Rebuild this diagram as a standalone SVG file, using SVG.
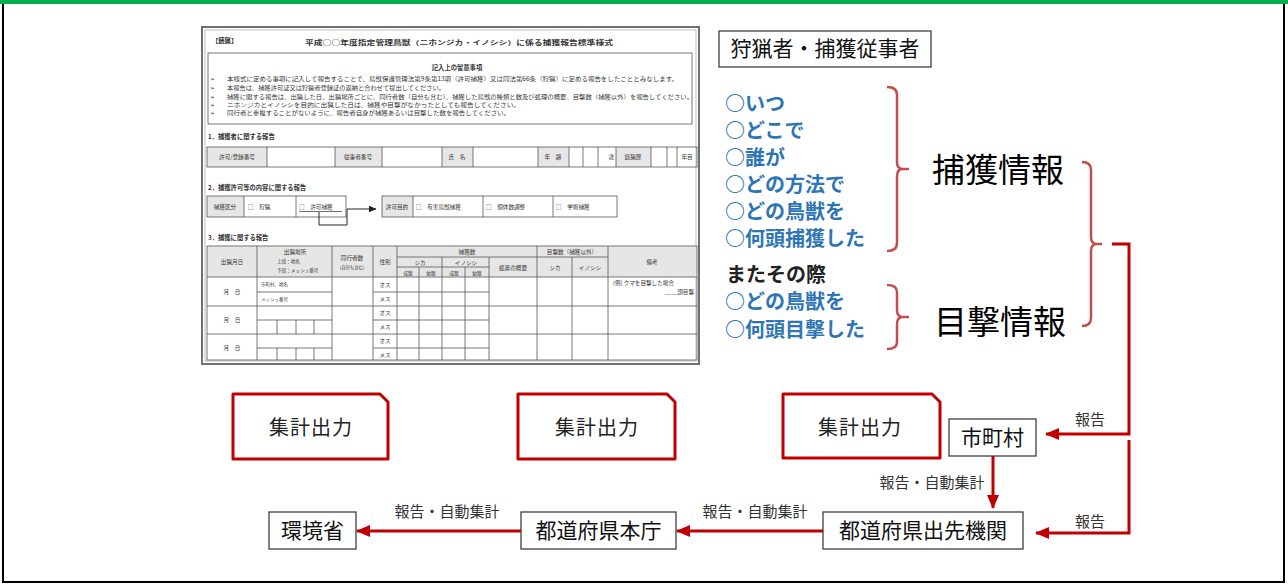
<svg xmlns="http://www.w3.org/2000/svg" width="1288" height="585" viewBox="0 0 1288 585">
<style>
text{font-family:'Noto Sans CJK JP',sans-serif;}
.f{fill:#333;font-size:5.6px;}
.fb{fill:#333;font-size:6.3px;font-weight:bold;}
.c{text-anchor:middle;}
.grid{fill:none;stroke:#555;stroke-width:0.8;}
.hd{fill:#e6e6e6;}
.node{fill:#fff;stroke:#404040;stroke-width:1.3;}
.nt{font-size:21px;fill:#111;text-anchor:middle;}
.out{fill:#fff;stroke:#C00000;stroke-width:3;stroke-linejoin:round;}
.ot{font-size:20px;fill:#222;text-anchor:middle;letter-spacing:1px;}
.blue{font-size:20px;fill:#2E75B6;font-weight:bold;}
.big{font-size:33px;fill:#000;}
.br{fill:none;stroke:#C0504D;stroke-width:2.5;}
.ar{fill:none;stroke:#C00000;stroke-width:3;}
.lb{font-size:15px;fill:#333;text-anchor:middle;}
</style>
<defs>
<marker id="ah" markerUnits="userSpaceOnUse" markerWidth="14" markerHeight="12" viewBox="0 0 14 12" refX="13" refY="6" orient="auto">
<path d="M0,0 L14,6 L0,12 Z" fill="#C00000"/>
</marker>
<marker id="sah" markerUnits="userSpaceOnUse" markerWidth="8" markerHeight="7" viewBox="0 0 8 7" refX="7.5" refY="3.5" orient="auto">
<path d="M0,0 L8,3.5 L0,7 Z" fill="#222"/>
</marker>
</defs>

<g id="frame">
<rect x="0" y="0" width="1288" height="4" fill="#00B050"/>
<path d="M3,4 V582 H1284 V4" fill="none" stroke="#000" stroke-width="2"/>
</g>

<g id="form">
<rect x="202" y="27" width="497" height="337" fill="#fff" stroke="#707070" stroke-width="2"/>
<rect x="205" y="30" width="491" height="331" fill="none" stroke="#b0b0b0" stroke-width="0.8"/>
<text x="212" y="43" class="fb">【銃猟】</text>
<text x="459" y="45" class="fb c" font-size="7.6" textLength="308" lengthAdjust="spacingAndGlyphs">平成○○年度指定管理鳥獣（ニホンジカ・イノシシ）に係る捕獲報告標準様式</text>
<rect x="208" y="53" width="484" height="71" class="grid"/>
<text x="457" y="70" class="fb c">記入上の留意事項</text>
<g class="f">
<text x="210" y="81" font-family="DejaVu Sans">➢</text>
<text x="210" y="90" font-family="DejaVu Sans">➢</text>
<text x="210" y="99" font-family="DejaVu Sans">➢</text>
<text x="210" y="107" font-family="DejaVu Sans">➢</text>
<text x="210" y="115" font-family="DejaVu Sans">➢</text>
<text x="227" y="81" textLength="451" lengthAdjust="spacingAndGlyphs">本様式に定める事項に記入して報告することで、鳥獣保護管理法第9条第13項（許可捕獲）又は同法第66条（狩猟）に定める報告をしたこととみなします。</text>
<text x="227" y="90" textLength="218" lengthAdjust="spacingAndGlyphs">本報告は、捕獲許可証又は狩猟者登録証の返納と合わせて提出してください。</text>
<text x="227" y="99" textLength="466" lengthAdjust="spacingAndGlyphs">捕獲に関する報告は、出猟した日、出猟場所ごとに、同行者数（自分も含む）、捕獲した鳥獣の種類と数及び処理の概要、目撃数（捕獲以外）を報告してください。</text>
<text x="227" y="107" textLength="293" lengthAdjust="spacingAndGlyphs">ニホンジカとイノシシを目的に出猟した日は、捕獲や目撃がなかったとしても報告してください。</text>
<text x="227" y="115" textLength="283" lengthAdjust="spacingAndGlyphs">同行者と重複することがないように、報告者自身が捕獲あるいは目撃した数を報告してください。</text>
</g>

<text x="208" y="139" class="fb">1．捕獲者に関する報告</text>
<rect x="207" y="147" width="60" height="20" class="hd"/>
<rect x="335" y="147" width="47" height="20" class="hd"/>
<rect x="442" y="147" width="31" height="20" class="hd"/>
<rect x="538" y="147" width="31" height="20" class="hd"/>
<rect x="616" y="147" width="35" height="20" class="hd"/>
<rect x="207" y="147" width="490" height="20" class="grid"/>
<path class="grid" d="M267,147V167M335,147V167M382,147V167M442,147V167M473,147V167M538,147V167M569,147V167M583,147V167M598,147V167M616,147V167M651,147V167M667,147V167M677,147V167"/>
<g class="f">
<text x="237" y="159" class="c">許可/登録番号</text>
<text x="358" y="159" class="c">従事者番号</text>
<text x="457" y="159" class="c">氏　名</text>
<text x="553" y="159" class="c">年　齢</text>
<text x="614" y="159" text-anchor="end">歳</text>
<text x="633" y="159" class="c">銃猟歴</text>
<text x="687" y="159" class="c">年目</text>
</g>

<text x="208" y="190" class="fb">2．捕獲許可等の内容に関する報告</text>
<rect x="207" y="196" width="37" height="21" class="hd"/>
<rect x="382" y="196" width="31" height="21" class="hd"/>
<rect x="207" y="196" width="139" height="21" class="grid"/>
<path class="grid" d="M244,196V217M296,196V217"/>
<rect x="382" y="196" width="235" height="21" class="grid"/>
<path class="grid" d="M413,196V217M483,196V217M553,196V217"/>
<g class="f">
<text x="225" y="209" class="c">捕獲区分</text>
<text x="248" y="209">□　狩猟</text>
<text x="299" y="209">□　許可捕獲</text>
<text x="397" y="209" class="c">許可目的</text>
<text x="416" y="209">□　有害鳥獣捕獲</text>
<text x="486" y="209">□　個体数調整</text>
<text x="556" y="209">□　学術捕獲</text>
</g>
<path d="M299,211.5H342" stroke="#333" stroke-width="0.7"/>
<path d="M319,212V225H347V209H376" fill="none" stroke="#222" stroke-width="1" marker-end="url(#sah)"/>

<text x="208" y="240" class="fb">3．捕獲に関する報告</text>
<rect x="207" y="246" width="490" height="31" class="hd"/>
<rect x="207" y="246" width="490" height="114" class="grid" stroke-width="1"/>
<path class="grid" d="M257,246V360M332,246V360M373,246V360M397,246V360M442,257V360M419,267V360M465,267V360M489,257V360M537,246V360M572,257V360M608,246V360
M397,257H608M397,267H489M207,277H697M207,306H697M207,334H697
M257,292H332M373,292H489M257,320H332M373,320H489M257,348H332M373,348H489
M277,320V334M296,320V334M314,320V334M277,348V360M296,348V360M314,348V360"/>
<g class="f">
<text x="232" y="264" class="c">出猟月日</text>
<text x="295" y="254" class="c">出猟場所</text>
<text x="277" y="263" font-size="4.6">上段：地名</text>
<text x="277" y="272" font-size="4.6">下段：メッシュ番号</text>
<text x="352" y="260" class="c">同行者数</text>
<text x="352" y="269" class="c" font-size="4.3">(自分も含む)</text>
<text x="385" y="264" class="c">性別</text>
<text x="467" y="254" class="c">捕獲数</text>
<text x="420" y="265" class="c">シカ</text>
<text x="466" y="265" class="c">イノシシ</text>
<text x="408" y="275" class="c" font-size="4.8">成獣</text>
<text x="431" y="275" class="c" font-size="4.8">幼獣</text>
<text x="454" y="275" class="c" font-size="4.8">成獣</text>
<text x="477" y="275" class="c" font-size="4.8">幼獣</text>
<text x="513" y="270" class="c">処置の概要</text>
<text x="572" y="254" class="c">目撃数（捕獲以外）</text>
<text x="555" y="270" class="c">シカ</text>
<text x="590" y="270" class="c">イノシシ</text>
<text x="652" y="264" class="c">備考</text>
<text x="232" y="294" class="c">月　日</text>
<text x="232" y="322" class="c">月　日</text>
<text x="232" y="350" class="c">月　日</text>
<text x="261" y="286" font-size="4.5">市町村、地名</text>
<text x="261" y="301" font-size="4.5">メッシュ番号</text>
<text x="385" y="287" class="c">オス</text>
<text x="385" y="301" class="c">メス</text>
<text x="385" y="315" class="c">オス</text>
<text x="385" y="329" class="c">メス</text>
<text x="385" y="343" class="c">オス</text>
<text x="385" y="357" class="c">メス</text>
<text x="613" y="285">(例) クマを目撃した場合</text>
<text x="694" y="294" text-anchor="end">____頭目撃</text>
</g>
</g>

<g id="hunter">
<rect x="719" y="31" width="212" height="36" class="node"/>
<text x="825" y="56" class="nt">狩猟者・捕獲従事者</text>
</g>

<g id="capture-list">
<text x="725" y="111" class="blue">○いつ</text>
<text x="725" y="138" class="blue">○どこで</text>
<text x="725" y="165" class="blue">○誰が</text>
<text x="725" y="192" class="blue">○どの方法で</text>
<text x="725" y="219" class="blue">○どの鳥獣を</text>
<text x="725" y="246" class="blue">○何頭捕獲した</text>
</g>
<g id="sighting-list">
<text x="726" y="282" font-size="20" font-weight="bold" fill="#222">またその際</text>
<text x="725" y="309" class="blue">○どの鳥獣を</text>
<text x="725" y="337" class="blue">○何頭目撃した</text>
</g>

<g id="brackets">
<path class="br" d="M887,87 Q897,87 897,95 V162 Q897,169 903,169 H909 M903,169 Q897,169 897,176 V243 Q897,251 887,251"/>
<path class="br" d="M887,285 Q897,285 897,292 V310 Q897,317 903,317 H909 M903,317 Q897,317 897,324 V342 Q897,349 887,349"/>
<path class="br" d="M1082,162 Q1091,162 1091,170 V237 Q1091,244 1097,244 H1102 M1097,244 Q1091,244 1091,251 V318 Q1091,326 1082,326"/>
</g>

<g id="capture-info"><text x="998" y="182" class="big" text-anchor="middle">捕獲情報</text></g>
<g id="sighting-info"><text x="1000" y="334" class="big" text-anchor="middle">目撃情報</text></g>

<g id="output1">
<path class="out" d="M233,394 H380 L388,402 V459 H233 Z"/>
<text x="311" y="435" class="ot">集計出力</text>
</g>
<g id="output2">
<path class="out" d="M518,394 H667 L675,402 V459 H518 Z"/>
<text x="597" y="435" class="ot">集計出力</text>
</g>
<g id="output3">
<path class="out" d="M783,394 H932 L940,402 V458 H783 Z"/>
<text x="860" y="435" class="ot">集計出力</text>
</g>

<g id="municipality">
<rect x="949" y="419" width="87" height="37" class="node"/>
<text x="992.5" y="445" class="nt">市町村</text>
</g>
<g id="pref-branch">
<rect x="823" y="512" width="200" height="37" class="node"/>
<text x="923" y="538" class="nt" font-size="22">都道府県出先機関</text>
</g>
<g id="pref-hq">
<rect x="521" y="512" width="155" height="37" class="node"/>
<text x="598.5" y="538" class="nt">都道府県本庁</text>
</g>
<g id="moe">
<rect x="269" y="512" width="87" height="37" class="node"/>
<text x="312.5" y="538" class="nt">環境省</text>
</g>

<g id="connectors">
<path class="ar" d="M1112,244 H1129 V434 H1046" marker-end="url(#ah)"/>
<path class="ar" d="M1129,440 V533 H1036" marker-end="url(#ah)"/>
<path class="ar" d="M993,456 V508" marker-end="url(#ah)"/>
<path class="ar" d="M823,531 H677" marker-end="url(#ah)"/>
<path class="ar" d="M521,531 H357" marker-end="url(#ah)"/>
<text x="1090" y="425" class="lb">報告</text>
<text x="1090" y="527" class="lb">報告</text>
<text x="932" y="488" class="lb">報告・自動集計</text>
<text x="755" y="517" class="lb">報告・自動集計</text>
<text x="447" y="517" class="lb">報告・自動集計</text>
</g>
</svg>
